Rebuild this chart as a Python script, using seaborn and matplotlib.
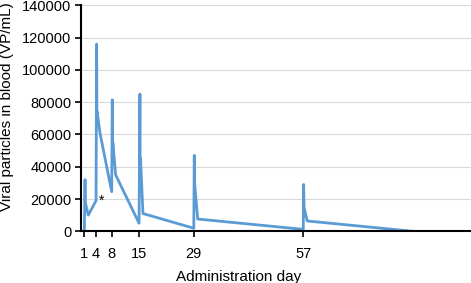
import matplotlib
matplotlib.use("Agg")
import matplotlib.pyplot as plt
import seaborn as sns
import pandas as pd

# Data (time in days, viral particles VP/mL)
days = [1, 1.18, 1.25, 2,
        4, 4.15, 4.22, 4.28, 5,
        8, 8.15, 8.22, 8.3, 9,
        15, 15.22, 15.3, 15.38, 16,
        29, 29.12, 29.2, 30,
        57, 57.1, 57.2, 58,
        85]
vp = [0, 32000, 18000, 10000,
      19000, 116000, 67000, 74000, 61000,
      24500, 81500, 45000, 55000, 35000,
      5000, 85000, 30000, 45000, 11000,
      1900, 47000, 30000, 7600,
      1200, 29000, 15000, 6400,
      0]
xticks = [1, 4, 8, 15, 29, 57]
yticks = [0, 20000, 40000, 60000, 80000, 100000, 120000, 140000]

df = pd.DataFrame({"day": days, "vp": vp})

sns.set_theme(style="white")
plt.rcParams["font.family"] = ["Liberation Sans", "DejaVu Sans"]

fig = plt.figure(figsize=(4.71, 2.83), dpi=100)
ax = fig.add_axes([81 / 471, (283 - 231.3) / 283, (471 - 81) / 471, (231.3 - 5.3) / 283])

sns.lineplot(data=df, x="day", y="vp", ax=ax, color="#5B9BD5", linewidth=2.0,
             estimator=None, sort=False)

ax.set_xlim(0.15, 99.9)
ax.set_ylim(0, 140000)
ax.set_xticks(xticks)
ax.set_xticklabels([str(t) for t in xticks])
ax.set_yticks(yticks)
ax.set_yticklabels([str(t) for t in yticks])

ax.yaxis.grid(True, color="#d9d9d9", linewidth=0.8)
ax.xaxis.grid(False)
ax.set_axisbelow(True)

for s in ["top", "right"]:
    ax.spines[s].set_visible(False)
for s in ["left", "bottom"]:
    ax.spines[s].set_visible(True)
    ax.spines[s].set_color("black")
    ax.spines[s].set_linewidth(1.5)

ax.tick_params(axis="both", which="major", direction="out", length=4, width=1.2,
               color="black", labelsize=10.5, labelcolor="black", pad=3,
               left=True, bottom=True)
ax.tick_params(axis="x", pad=7)

ax.set_xlabel("Administration day", fontsize=11, color="black")
ax.set_ylabel("Viral particles in blood (VP/mL)", fontsize=11, color="black")
ax.xaxis.set_label_coords(0.404, -0.17)
ax.yaxis.set_label_coords(-0.172, 0.55)

ax.text(5.3, 19000, "*", fontsize=10, color="black", ha="center", va="center")

fig.savefig("out.png", dpi=100)
